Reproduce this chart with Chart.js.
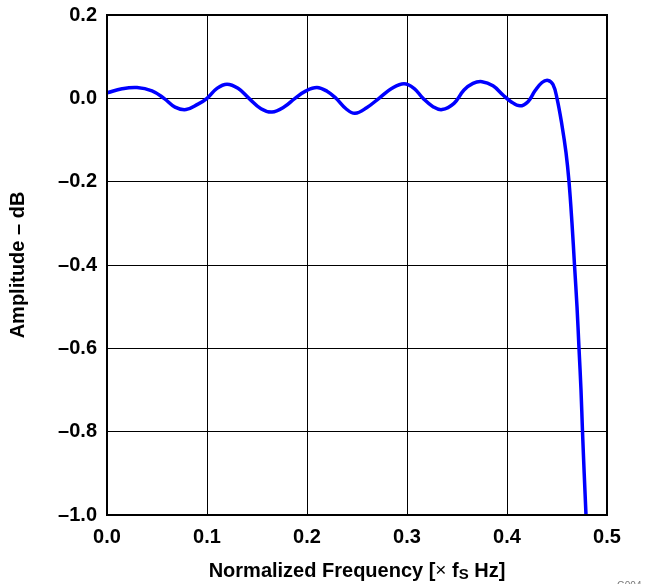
<!DOCTYPE html>
<html lang="en">
<head>
    <meta charset="UTF-8">
    <title>Amplitude vs Normalized Frequency</title>
    <script src="https://cdn.jsdelivr.net/npm/chart.js@4/dist/chart.umd.min.js"></script>
    <style>
        body { margin: 0; background: #fff; }
    </style>
</head>
<body>

<canvas id="resp-chart" width="650" height="584"></canvas>

<script>
    // passband ripple (normalized freq, dB)
    const freq = [0.000, 0.015, 0.030, 0.045, 0.057, 0.068, 0.079, 0.091, 0.100,
                  0.110, 0.120, 0.131, 0.142, 0.154, 0.165, 0.177, 0.188, 0.199,
                  0.210, 0.220, 0.229, 0.239, 0.248, 0.260, 0.272, 0.285, 0.297,
                  0.307, 0.316, 0.326, 0.335, 0.347, 0.357, 0.366, 0.375, 0.386,
                  0.396, 0.404, 0.413, 0.421, 0.428, 0.435, 0.441, 0.446, 0.450,
                  0.455, 0.459, 0.462, 0.465, 0.4675, 0.470, 0.472, 0.474, 0.4755,
                  0.4772, 0.479];
    const amp  = [0.013, 0.023, 0.026, 0.018, 0.000, -0.021, -0.027, -0.014, 0.000,
                  0.024, 0.034, 0.024, 0.000, -0.025, -0.033, -0.021, 0.000, 0.018,
                  0.026, 0.017, 0.000, -0.025, -0.036, -0.022, 0.000, 0.024, 0.035,
                  0.024, 0.000, -0.020, -0.027, -0.012, 0.020, 0.036, 0.040, 0.030,
                  0.008, -0.008, -0.018, -0.008, 0.018, 0.038, 0.043, 0.033, 0.000,
                  -0.065, -0.13, -0.2, -0.3, -0.4, -0.5, -0.6, -0.7, -0.8,
                  -0.9, -1.0];

    const xTicks = [0.0, 0.1, 0.2, 0.3, 0.4, 0.5];
    const yTicks = [-1.0, -0.8, -0.6, -0.4, -0.2, 0.0, 0.2];

    const FONT = '"Liberation Sans", Arial, sans-serif';

    function fmt(v) {
        return v < 0 ? '\u2013' + Math.abs(v).toFixed(1) : v.toFixed(1);
    }

    const points = freq.map((f, i) => ({x: f, y: amp[i]}));

    // axis titles drawn by hand so f can carry its S subscript
    const titles = {
        id: 'titles',
        afterDraw(chart) {
            const ctx = chart.ctx;
            const area = chart.chartArea;
            ctx.save();

            ctx.strokeStyle = '#000';
            ctx.lineWidth = 2;
            ctx.strokeRect(area.left, area.top, area.right - area.left, area.bottom - area.top);

            ctx.fillStyle = '#000';
            ctx.textBaseline = 'middle';

            // y title
            ctx.save();
            ctx.translate(18, (area.top + area.bottom) / 2);
            ctx.rotate(-Math.PI / 2);
            ctx.textAlign = 'center';
            ctx.font = 'bold 20px ' + FONT;
            ctx.fillText('Amplitude \u2013 dB', 0, 0);
            ctx.restore();

            // x title with subscript
            const big = 'bold 20px ' + FONT;
            const small = 'bold 15px ' + FONT;
            const parts = [
                {t: 'Normalized Frequency [', f: big, dy: 0},
                {t: '\u00d7', f: '19px ' + FONT, dy: 0},
                {t: ' f', f: big, dy: 0},
                {t: 'S', f: small, dy: 4},
                {t: ' Hz]', f: big, dy: 0}
            ];
            let total = 0;
            parts.forEach(p => { ctx.font = p.f; p.w = ctx.measureText(p.t).width; total += p.w; });
            let x = (area.left + area.right) / 2 - total / 2;
            const y = 571;
            ctx.textAlign = 'left';
            parts.forEach(p => {
                ctx.font = p.f;
                ctx.fillText(p.t, x, y + p.dy);
                x += p.w;
            });

            // figure id, clipped at the corner
            ctx.fillStyle = '#777';
            ctx.font = '10px ' + FONT;
            ctx.fillText('G004', 617, 586);
            ctx.restore();
        }
    };

    new Chart('resp-chart', {
        type: 'line',
        data: {
            datasets: [{
                data: points,
                borderColor: '#0000ff',
                borderWidth: 3.5,
                pointRadius: 0,
                fill: false,
                tension: 0.4
            }]
        },
        options: {
            responsive: false,
            animation: false,
            layout: { padding: { top: 15, right: 43, left: 0, bottom: 0 } },
            plugins: { legend: { display: false }, tooltip: { enabled: false } },
            scales: {
                x: {
                    type: 'linear',
                    min: 0, max: 0.5,
                    afterBuildTicks: s => { s.ticks = xTicks.map(v => ({value: v})); },
                    afterFit: s => { s.height = 69; s.paddingLeft = 0; s.paddingRight = 0; },
                    grid: { color: '#000', lineWidth: 1, drawTicks: false },
                    border: { display: false },
                    ticks: {
                        padding: 10,
                        color: '#000',
                        font: { family: FONT, size: 20, weight: 'bold' },
                        callback: v => fmt(v),
                        maxRotation: 0
                    }
                },
                y: {
                    min: -1.0, max: 0.2,
                    afterBuildTicks: s => { s.ticks = yTicks.map(v => ({value: v})); },
                    afterFit: s => { s.width = 107; s.paddingTop = 0; s.paddingBottom = 0; },
                    grid: { color: '#000', lineWidth: 1, drawTicks: false },
                    border: { display: false },
                    ticks: {
                        padding: 10,
                        color: '#000',
                        font: { family: FONT, size: 20, weight: 'bold' },
                        callback: v => fmt(v)
                    }
                }
            }
        },
        plugins: [titles]
    });
</script>

</body>
</html>
